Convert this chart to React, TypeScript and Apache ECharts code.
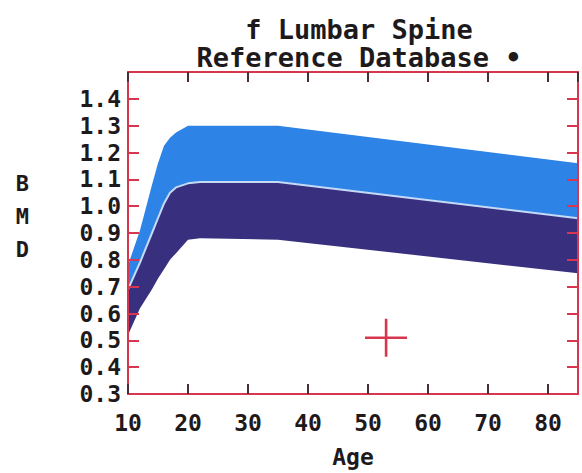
import React, { useEffect, useRef } from "react";
import * as echarts from "echarts";

// Reference curve (female lumbar spine)
const ages = [10, 12, 14, 15, 16, 17, 18, 20, 22, 35, 85];
const upperBMD = [0.78, 0.91, 1.08, 1.16, 1.225, 1.255, 1.275, 1.3, 1.3, 1.3, 1.16];
const meanBMD = [0.69, 0.79, 0.9, 0.955, 1.01, 1.05, 1.07, 1.085, 1.09, 1.09, 0.955];
const lowerBMD = [0.52, 0.62, 0.69, 0.73, 0.765, 0.8, 0.825, 0.875, 0.88, 0.875, 0.75];

// Patient point
const patientAge = [53];
const patientBMD = [0.51];

// Axis ranges
const xRange = { min: 10, max: 85, interval: 10 };
const yRange = { min: 0.3, max: 1.5, interval: 0.1 };

const titleLines = ["f Lumbar Spine", "Reference Database •"];

const FONT = "DejaVu Sans Mono";
const RED = "#d8364e";
const DARKTICK = "#4a2e34";
const LIGHT = "#2e84e6";
const DARK = "#38307f";

export default function App() {
  const ref = useRef<HTMLDivElement>(null);
  useEffect(() => {
    if (!ref.current) return;
    const chart = echarts.init(ref.current, null, { renderer: "svg" });

    const upperData = ages.map((a, i) => [a, upperBMD[i]]);
    const meanData = ages.map((a, i) => [a, meanBMD[i]]);
    const lowerData = ages.map((a, i) => [a, lowerBMD[i]]);

    const axisCommonX = {
      type: "value" as const,
      min: xRange.min,
      max: xRange.max,
      interval: xRange.interval,
      splitLine: { show: false },
      z: 10,
    };
    const axisCommonY = {
      type: "value" as const,
      min: yRange.min,
      max: yRange.max,
      interval: yRange.interval,
      splitLine: { show: false },
      z: 10,
    };

    chart.setOption({
      animation: false,
      backgroundColor: "#ffffff",
      title: {
        text: titleLines.join("\n"),
        left: 354,
        top: 10,
        textAlign: "center",
        textStyle: {
          fontFamily: FONT,
          fontWeight: "bold",
          fontSize: 27,
          lineHeight: 28,
          color: "#1e1a1c",
        },
      },
      grid: {
        left: 128,
        right: 4,
        top: 72,
        bottom: 79,
        outerBoundsMode: "none",
      },
      xAxis: [
        {
          ...axisCommonX,
          position: "bottom",
          name: "Age",
          nameLocation: "middle",
          nameGap: 51,
          nameTextStyle: {
            fontFamily: FONT,
            fontWeight: "bold",
            fontSize: 23,
            color: "#1e1a1c",
          },
          axisLine: { show: true, lineStyle: { color: RED, width: 2 } },
          axisTick: { show: true, inside: true, length: 10, lineStyle: { color: DARKTICK, width: 2 } },
          axisLabel: {
            show: true,
            showMaxLabel: false,
            margin: 17,
            fontFamily: FONT,
            fontWeight: "bold",
            fontSize: 23,
            color: "#1e1a1c",
          },
        },
        {
          ...axisCommonX,
          position: "top",
          axisLine: { show: true, lineStyle: { color: RED, width: 2 } },
          axisTick: { show: true, inside: true, length: 10, lineStyle: { color: DARKTICK, width: 2 } },
          axisLabel: { show: false },
        },
      ],
      yAxis: [
        {
          ...axisCommonY,
          position: "left",
          name: "B\nM\nD\n",
          nameLocation: "middle",
          nameRotate: 0,
          nameGap: 99,
          nameTextStyle: {
            fontFamily: FONT,
            fontWeight: "bold",
            fontSize: 22,
            lineHeight: 33,
            color: "#1e1a1c",
          },
          axisLine: { show: true, lineStyle: { color: RED, width: 2 } },
          axisTick: { show: true, inside: true, length: 11, lineStyle: { color: RED, width: 2 } },
          axisLabel: {
            show: true,
            showMaxLabel: false,
            margin: 7,
            fontFamily: FONT,
            fontWeight: "bold",
            fontSize: 23,
            color: "#1e1a1c",
            formatter: (v: number) => v.toFixed(1),
          },
        },
        {
          ...axisCommonY,
          position: "right",
          axisLine: { show: true, lineStyle: { color: RED, width: 2 } },
          axisTick: { show: true, inside: true, length: 11, lineStyle: { color: RED, width: 2 } },
          axisLabel: { show: false },
        },
      ],
      series: [
        {
          type: "line",
          name: "+1 SD",
          data: upperData,
          symbol: "none",
          lineStyle: { width: 0, opacity: 0 },
          areaStyle: { color: LIGHT, opacity: 1 },
          z: 2,
          silent: true,
        },
        {
          type: "line",
          name: "mean",
          data: meanData,
          symbol: "none",
          lineStyle: { width: 0, opacity: 0 },
          areaStyle: { color: DARK, opacity: 1 },
          z: 3,
          silent: true,
        },
        {
          type: "line",
          name: "-1 SD",
          data: lowerData,
          symbol: "none",
          lineStyle: { width: 0, opacity: 0 },
          areaStyle: { color: "#ffffff", opacity: 1 },
          z: 4,
          silent: true,
        },
        {
          type: "line",
          name: "mean line",
          data: meanData,
          symbol: "none",
          lineStyle: { width: 2, color: "#c4daf6" },
          z: 5,
          silent: true,
        },
        {
          type: "scatter",
          name: "patient",
          data: patientAge.map((a, i) => [a, patientBMD[i]]),
          symbol: "path://M0,17.8 L42,17.8 L42,20.4 L0,20.4 Z M19.8,0 L22.4,0 L22.4,38 L19.8,38 Z",
          symbolSize: [42, 38],
          itemStyle: { color: RED, opacity: 1 },
          z: 6,
          silent: true,
        },
      ],
    });
    return () => chart.dispose();
  }, []);

  return (
    <div
      ref={ref}
      style={{ position: "absolute", left: 0, top: 0, width: 582, height: 473 }}
    />
  );
}
